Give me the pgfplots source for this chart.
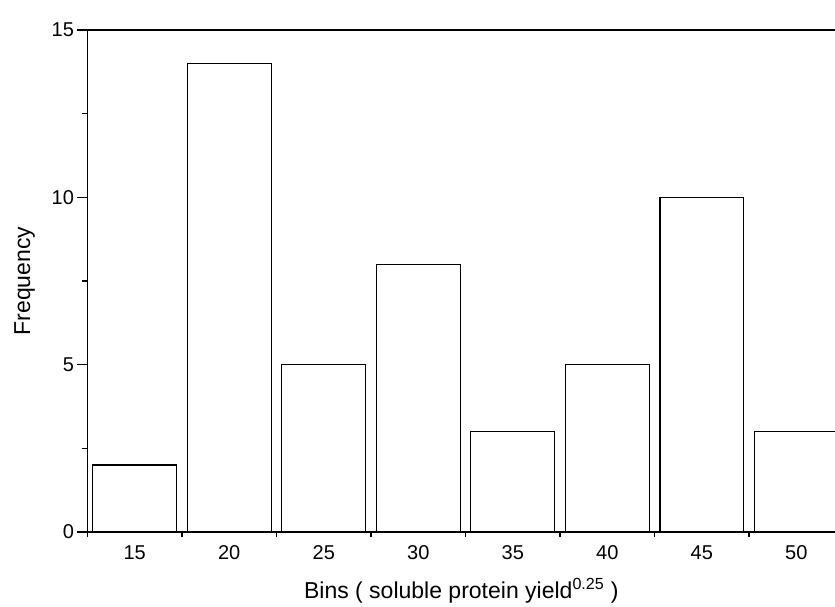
\documentclass[border=0pt]{standalone}
\usepackage{fontspec}
\setmainfont{Liberation Sans}
\usepackage{pgfplots}
\pgfplotsset{compat=1.18}

\begin{document}
\begin{tikzpicture}
\begin{axis}[
  scale only axis,
  width=747.5pt,
  height=502pt,
  xmin=12.5, xmax=52.05,
  ymin=0, ymax=15,
  axis x line*=box,
  axis y line*=left,
  axis line style={line width=1.4pt},
  ybar,
  bar width=4.44,
  bar shift=0pt,
  xtick={15,20,...,50},
  major x tick style={draw=none},
  minor xtick={12.5,17.5,...,47.5},
  xtick pos=bottom,
  ytick={0,5,10,15},
  minor ytick={2.5,7.5,12.5},
  ytick pos=left,
  tick align=outside,
  major tick length=10pt,
  minor tick length=5pt,
  tick style={black, line width=1.2pt},
  tick label style={font=\fontsize{20}{22}\selectfont},
  /pgf/number format/assume math mode=true,
  xlabel={Bins ( soluble protein yield\textsuperscript{0.25} )},
  ylabel={Frequency},
  label style={font=\fontsize{23}{25}\selectfont},
  xlabel style={yshift=-12pt},
  ylabel style={yshift=10pt},
]
\addplot[draw=black, fill=white, line width=1.4pt] coordinates {
  (15,2) (20,14) (25,5) (30,8) (35,3) (40,5) (45,10) (50,3)
};
\end{axis}
\pgfresetboundingbox
\path[use as bounding box] (-87.5pt,-74pt) rectangle (747.5pt,532pt);
\end{tikzpicture}
\end{document}
